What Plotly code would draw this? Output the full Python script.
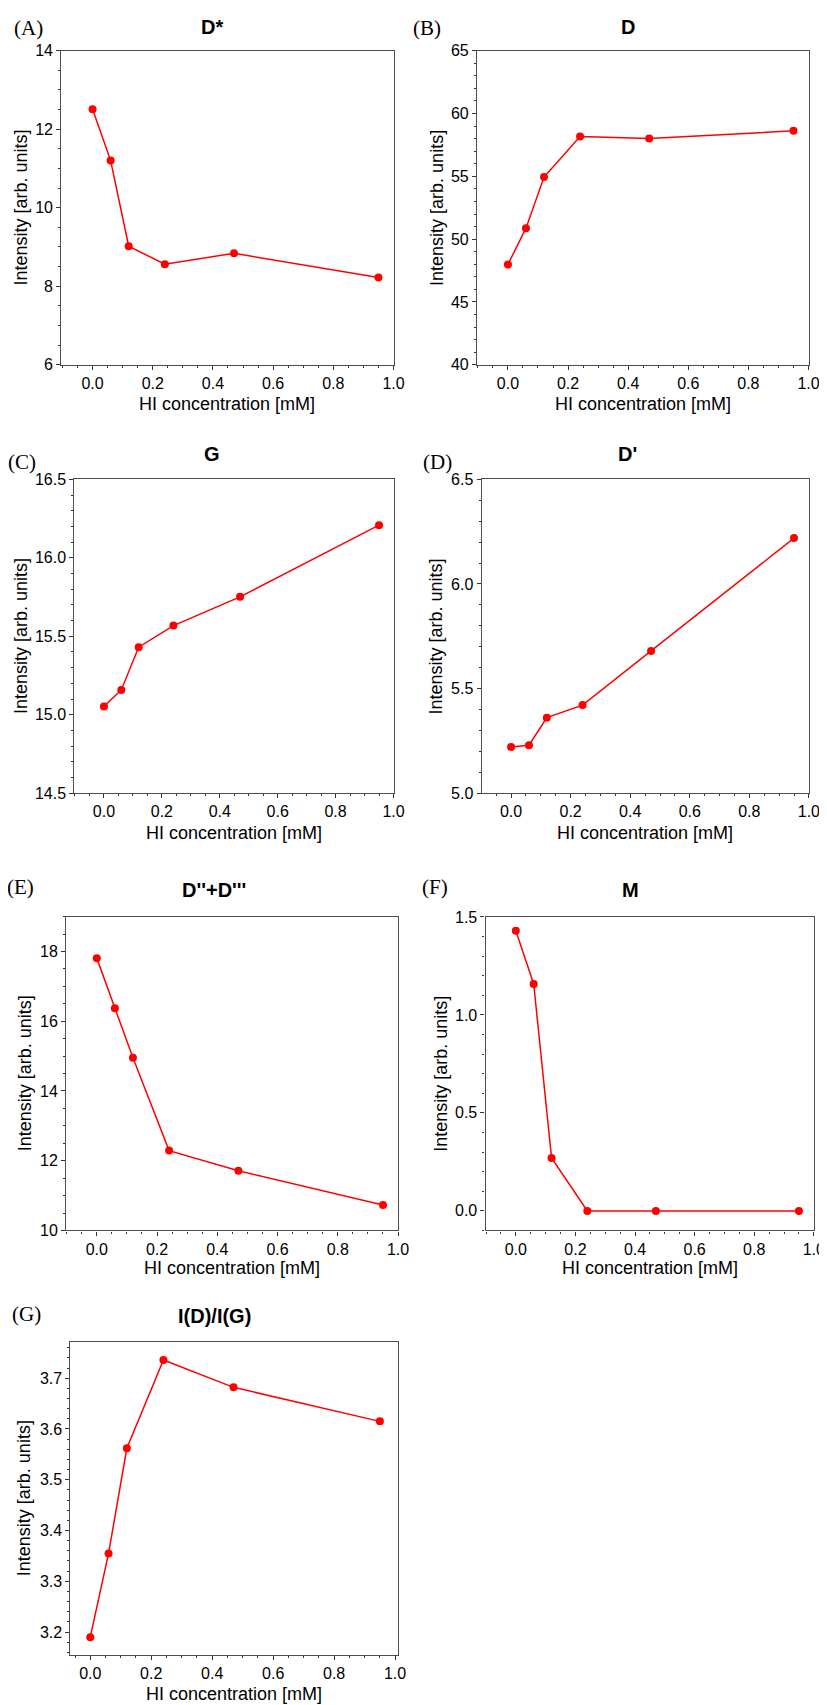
import plotly.graph_objects as go

# ---- data ----
hi_conc = [0.0, 0.06, 0.12, 0.24, 0.47, 0.95]
d_star = [12.51, 11.20, 9.02, 8.56, 8.84, 8.22]
d_band = [47.98, 50.87, 54.94, 58.17, 58.01, 58.62]
g_band = [15.053, 15.158, 15.43, 15.568, 15.751, 16.208]
d_prime = [5.221, 5.229, 5.361, 5.421, 5.680, 6.219]
d2_d3 = [17.81, 16.37, 14.95, 12.29, 11.71, 10.73]
m_band = [1.429, 1.158, 0.270, 0.0, 0.0, 0.0]
id_ig = [3.190, 3.355, 3.562, 3.736, 3.682, 3.615]

titles = ["D*", "D", "G", "D'", "D''+D'''", "M", "I(D)/I(G)"]
letters = ["(A)", "(B)", "(C)", "(D)", "(E)", "(F)", "(G)"]
series = [d_star, d_band, g_band, d_prime, d2_d3, m_band, id_ig]
x_title = "HI concentration [mM]"
y_title = "Intensity [arb. units]"

W, H = 827, 1705

# frame (left, right, top, bottom) in px
frames = [
    (54, 390.7, 35, 352.3),
    (475.3, 811.3, 35, 352.3),
    (67.3, 390.7, 468, 785),
    (480, 811.7, 468, 785),
    (59, 395.3, 909.7, 1226.7),
    (484, 816.7, 910, 1226.7),
    (63.3, 395.3, 1339, 1655.7),
]
yranges = [(6, 14), (40, 65), (14.5, 16.5), (5.0, 6.5), (10, 19), (-0.1, 1.5), (3.1545, 3.772)]
ydticks = [2, 5, 0.5, 0.5, 2, 0.5, 0.1]
yminor = [0.5, 1, 0.1, 0.1, 0.5, 0.1, 0.02]
yfmt = ["d", "d", ".1f", ".1f", "d", ".1f", ".1f"]
xranges = [(-0.104, 1.0), (-0.103, 1.0), (-0.102, 1.0), (-0.099, 1.0), (-0.1015, 1.0), (-0.1015, 1.0), (-0.065, 1.0097)]

title_pos = [(207, 11), (628, 11), (207, 442), (628, 442), (209, 883), (631, 883), (209, 1313)]
letter_pos = [(21, 12), (425, 12), (14, 450), (435, 450), (13, 880), (433, 880), (19, 1311)]
ytitle_x = [13, 434, 13, 434, 17, 439, 17]
xtitle_y = [392, 392, 825, 825, 1265, 1265, 1695]

FONT = "Liberation Sans, Arial, sans-serif"
fig = go.Figure()
annotations = []
for i, (ys, fr) in enumerate(zip(series, frames)):
    l, r, t, b = fr
    n = "" if i == 0 else str(i + 1)
    fig.add_trace(go.Scatter(
        x=hi_conc, y=ys, mode="lines+markers",
        line=dict(color="#ff0000", width=1.5),
        marker=dict(color="#ff0000", size=8),
        xaxis="x" + n, yaxis="y" + n, showlegend=False, cliponaxis=False,
    ))
    common = dict(showline=True, mirror=True, linecolor="#4d4d4d", linewidth=1.2,
                  ticks="outside", ticklen=4, tickcolor="#333333", tickwidth=1,
                  showgrid=False, zeroline=False,
                  tickfont=dict(family=FONT, size=16, color="black"))
    fig.layout["xaxis" + n] = dict(
        domain=[l / W, r / W], anchor="y" + n, range=list(xranges[i]),
        tick0=0, dtick=0.2, tickformat=".1f",
        minor=dict(dtick=0.05, tick0=0, ticks="outside", ticklen=2, tickcolor="#333333"),
        **common)
    fig.layout["yaxis" + n] = dict(
        domain=[1 - b / H, 1 - t / H], anchor="x" + n, range=list(yranges[i]),
        tick0=0, dtick=ydticks[i], tickformat=yfmt[i],
        minor=dict(dtick=yminor[i], tick0=0, ticks="outside", ticklen=2, tickcolor="#333333"),
        **common)
    annotations.append(dict(text="<b>%s</b>" % titles[i], x=title_pos[i][0] / W, y=1 - title_pos[i][1] / H,
                            xref="paper", yref="paper", showarrow=False, xanchor="center", yanchor="middle",
                            font=dict(family=FONT, size=20, color="black")))
    annotations.append(dict(text=letters[i], x=letter_pos[i][0] / W, y=1 - letter_pos[i][1] / H,
                            xref="paper", yref="paper", showarrow=False, xanchor="center", yanchor="middle",
                            font=dict(family="Liberation Serif, Times New Roman, serif", size=21, color="black")))
    annotations.append(dict(text=y_title, x=ytitle_x[i] / W, y=1 - ((t + b) / 2) / H, textangle=-90,
                            xref="paper", yref="paper", showarrow=False, xanchor="center", yanchor="middle",
                            font=dict(family=FONT, size=18, color="black")))
    annotations.append(dict(text=x_title, x=((l + r) / 2) / W, y=1 - xtitle_y[i] / H,
                            xref="paper", yref="paper", showarrow=False, xanchor="center", yanchor="middle",
                            font=dict(family=FONT, size=18, color="black")))

fig.update_layout(width=W, height=H, margin=dict(l=0, r=0, t=0, b=0),
                  paper_bgcolor="white", plot_bgcolor="white", annotations=annotations)
fig.write_html("out.html")
